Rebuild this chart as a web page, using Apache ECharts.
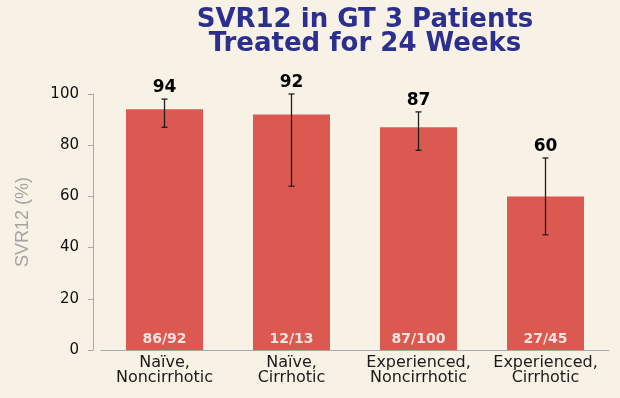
<!DOCTYPE html>
<html lang="en">
<head>
    <meta http-equiv="Content-Type" content="text/html; charset=utf-8" />
    <title>SVR12 in GT 3 Patients</title>
    <style>
        html,
        body,
        #myChart {
            width: 100%;
            height: 100%;
            margin: 0;
            padding: 0;
            overflow: hidden;
            background: #f8f2e6;
        }
    </style>
</head>
<body>
    <div id="myChart"></div>
    <script src="https://cdn.jsdelivr.net/npm/echarts@6/dist/echarts.min.js"></script>
    <script>
        var categories = ['Naïve,\nNoncirrhotic', 'Naïve,\nCirrhotic', 'Experienced,\nNoncirrhotic', 'Experienced,\nCirrhotic'];
        var svrValues = [94, 92, 87, 60];
        var ciLow = [87, 64, 78, 45];
        var ciHigh = [98, 100, 93, 75];
        var counts = ['86/92', '12/13', '87/100', '27/45'];
        var yTicks = [0, 20, 40, 60, 80, 100];

        var errData = [];
        var topData = [];
        for (var i = 0; i < categories.length; i++) {
            errData.push([i, ciLow[i], ciHigh[i]]);
            topData.push([i, ciHigh[i], svrValues[i]]);
        }

        var myChart = echarts.init(document.getElementById('myChart'));
        var option = {
            backgroundColor: '#f8f2e6',
            title: {
                text: 'SVR12 in GT 3 Patients\nTreated for 24 Weeks',
                left: 360,
                top: 3,
                textAlign: 'center',
                textStyle: {
                    fontFamily: 'DejaVu Sans',
                    fontWeight: 'bold',
                    fontSize: 26,
                    lineHeight: 24,
                    color: '#2d2f8e'
                }
            },
            grid: {
                left: 101,
                right: 11,
                top: 94,
                bottom: 48
            },
            xAxis: {
                type: 'category',
                data: categories,
                axisTick: { show: false },
                axisLine: { lineStyle: { color: '#aaaaaa', width: 1 } },
                axisLabel: {
                    interval: 0,
                    margin: 5,
                    fontFamily: 'DejaVu Sans',
                    fontSize: 16,
                    lineHeight: 15,
                    color: '#1a1a1a'
                }
            },
            yAxis: {
                type: 'value',
                min: 0,
                max: 100,
                interval: 20,
                offset: 8,
                name: 'SVR12 (%)',
                nameLocation: 'middle',
                nameGap: 61,
                nameTextStyle: {
                    fontFamily: 'Liberation Sans',
                    fontSize: 18,
                    color: '#a3a3a3'
                },
                splitLine: { show: false },
                axisLine: { show: true, lineStyle: { color: '#aaaaaa', width: 1 } },
                axisTick: { show: true, length: 5, lineStyle: { color: '#aaaaaa' } },
                axisLabel: {
                    margin: 14,
                    fontFamily: 'DejaVu Sans',
                    fontSize: 15,
                    color: '#111111',
                    formatter: function (v) {
                        return yTicks.indexOf(v) >= 0 ? String(v) : '';
                    }
                }
            },
            series: [{
                type: 'bar',
                data: svrValues,
                barWidth: 77,
                itemStyle: { color: '#db5951' },
                label: {
                    show: true,
                    position: 'insideBottom',
                    distance: 4,
                    fontFamily: 'DejaVu Sans',
                    fontWeight: 'bold',
                    fontSize: 14,
                    color: '#f8e4df',
                    formatter: function (p) {
                        return counts[p.dataIndex];
                    }
                },
                z: 2
            }, {
                type: 'custom',
                data: errData,
                renderItem: function (params, api) {
                    var x = api.value(0);
                    var lo = api.coord([x, api.value(1)]);
                    var hi = api.coord([x, api.value(2)]);
                    var cap = 3;
                    var style = { stroke: '#1e1e1e', lineWidth: 1.3 };
                    return {
                        type: 'group',
                        children: [
                            { type: 'line', shape: { x1: hi[0], y1: hi[1], x2: lo[0], y2: lo[1] }, style: style },
                            { type: 'line', shape: { x1: hi[0] - cap, y1: hi[1], x2: hi[0] + cap, y2: hi[1] }, style: style },
                            { type: 'line', shape: { x1: lo[0] - cap, y1: lo[1], x2: lo[0] + cap, y2: lo[1] }, style: style }
                        ]
                    };
                },
                z: 5
            }, {
                type: 'scatter',
                data: topData,
                symbolSize: 0,
                itemStyle: { opacity: 1 },
                label: {
                    show: true,
                    position: 'top',
                    distance: 3,
                    fontFamily: 'DejaVu Sans',
                    fontWeight: 'bold',
                    fontSize: 17,
                    color: '#000000',
                    opacity: 1,
                    formatter: function (p) {
                        return String(p.value[2]);
                    }
                },
                z: 6
            }]
        };
        myChart.setOption(option);
    </script>
</body>
</html>
